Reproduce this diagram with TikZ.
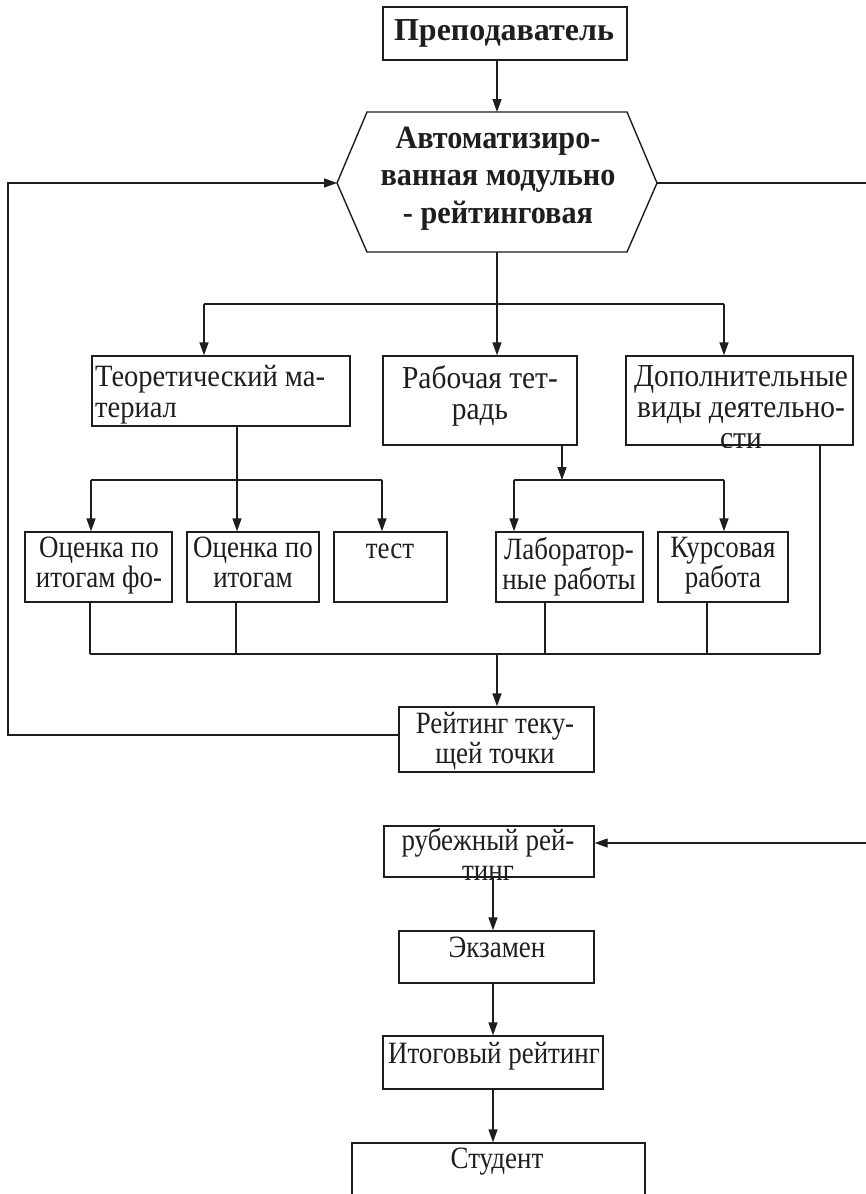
\documentclass[tikz,border=0pt]{standalone}
\usepackage{fontspec}
\setmainfont{Liberation Serif}
\newfontfamily\rowfont[FakeStretch=0.92]{Liberation Serif}
\newfontfamily\lowfont[FakeStretch=0.87]{Liberation Serif}
\newfontfamily\hexfont[FakeStretch=0.93]{Liberation Serif}
\usetikzlibrary{fit,arrows.meta}
\definecolor{ink}{HTML}{1E1E1E}
\begin{document}
\begin{tikzpicture}[x=1pt,y=-1pt,
  box/.style={draw=ink, line width=1.4pt, inner sep=0pt, rectangle},
  ln/.style={draw=ink, line width=1.4pt},
  arr/.style={ln, -{Triangle[length=13pt,width=9pt]}},
  txt/.style={inner sep=0pt, align=center, text=ink, font=\lowfont\fontsize{31}{30.5}\selectfont, execute at begin node=\strut},
  rtxt/.style={txt, font=\rowfont\fontsize{32}{31}\selectfont},
  btxt/.style={txt, font=\hexfont\fontsize{32.5}{37.5}\selectfont\bfseries},
]
\clip (0,0) rectangle (866,1194);
\fill[white] (0,0) rectangle (866,1194);

% ---------- boxes ----------
\node[box, fit={(383,7) (627,60)}] (prep) {};
\node[txt, font=\fontsize{32}{36}\selectfont\bfseries, anchor=base] (tprep) at (504,40) {Преподаватель};

\coordinate (hT) at (497,112);
\coordinate (hB) at (497,252);
\coordinate (hL) at (337,183);
\coordinate (hR) at (657,183);
\draw[ln] (367,112) -- (627,112) -- (hR) -- (627,252) -- (367,252) -- (hL) -- cycle;
\node[btxt, anchor=north] (hex) at (498,126.75) {Автоматизиро-\\ванная модульно\\- рейтинговая};

\node[box, fit={(92,356) (350,426)}] (teor) {};
\node[rtxt, font=\rowfont\fontsize{31}{31}\selectfont, align=left, anchor=north west] (tteor) at (95,365.3) {Теоретический ма-\\териал};

\node[box, fit={(383,356) (577,445)}] (rab) {};
\node[rtxt, anchor=north] (trab) at (480,365.3) {Рабочая тет-\\радь};

\node[box, fit={(626,356) (853,445)}] (dop) {};
\begin{scope}
  \clip (620,357) rectangle (860,447);
  \node[rtxt, anchor=north] (tdop) at (741,365.3) {Дополнительные\\виды деятельно-\\сти};
\end{scope}

\node[box, fit={(25,532) (172,602)}] (b1) {};
\node[txt, anchor=north] (tb1) at (99,536.65) {Оценка по\\итогам фо-};
\node[box, fit={(187,532) (319,602)}] (b2) {};
\node[txt, anchor=north] (tb2) at (253,536.65) {Оценка по\\итогам};
\node[box, fit={(334,532) (447,602)}] (b3) {};
\node[txt, anchor=north] (tb3) at (390,536.65) {тест};
\node[box, fit={(496,532) (643,602)}] (b4) {};
\node[txt, anchor=north] (tb4) at (569,536.65) {Лаборатор-\\ные работы};
\node[box, fit={(658,532) (788,602)}] (b5) {};
\node[txt, anchor=north] (tb5) at (723,536.65) {Курсовая\\работа};

\node[box, fit={(399,707) (594,772)}] (rt) {};
\node[txt, anchor=north] (trt) at (495,711.65) {Рейтинг теку-\\щей точки};

\node[box, fit={(384,826) (594,877)}] (rub) {};
\begin{scope}
  \clip (380,820) rectangle (600,880);
  \node[txt, anchor=north] (trub) at (488,827.65) {рубежный рей-\\тинг};
\end{scope}

\node[box, fit={(399,931) (594,983)}] (exam) {};
\node[txt, anchor=north] (texam) at (497,935.65) {Экзамен};

\node[box, fit={(383,1036) (603,1089)}] (itog) {};
\node[txt, anchor=north] (titog) at (494,1041.65) {Итоговый рейтинг};

\node[box, fit={(352,1143) (645,1230)}] (stud) {};
\node[txt, anchor=north] (tstud) at (497,1146.65) {Студент};

% ---------- connectors ----------
\draw[arr] (prep.south -| hT) -- (hT);

% top bus
\coordinate (busA) at (497,304);
\coordinate (busL) at (204,304);
\coordinate (busR) at (724,304);
\draw[ln] (hB) -- (busA);
\draw[ln] (busL) -- (busR);
\draw[arr] (busL) -- (busL |- teor.north);
\draw[arr] (busA) -- (busA |- rab.north);
\draw[arr] (busR) -- (busR |- dop.north);

% theory bus
\coordinate (tA) at (237,426);
\coordinate (tJ) at (237,480);
\coordinate (tL) at (91,480);
\coordinate (tR) at (382,480);
\draw[ln] (tA) -- (tJ);
\draw[ln] (tL) -- (tR);
\draw[arr] (tL) -- (tL |- b1.north);
\draw[arr] (tJ) -- (tJ |- b2.north);
\draw[arr] (tR) -- (tR |- b3.north);

% workbook bus
\coordinate (wA) at (562,445);
\coordinate (wJ) at (562,480);
\coordinate (wL) at (514,480);
\coordinate (wR) at (724,480);
\draw[arr] (wA) -- (wJ);
\draw[ln] (wL) -- (wR);
\draw[arr] (wL) -- (wL |- b4.north);
\draw[arr] (wR) -- (wR |- b5.north);

% collector bus
\coordinate (c1) at (90,654);
\coordinate (c2) at (236,654);
\coordinate (c4) at (545,654);
\coordinate (c5) at (707,654);
\coordinate (cD) at (820,654);
\coordinate (cM) at (497,654);
\draw[ln] (c1 |- b1.south) -- (c1);
\draw[ln] (c2 |- b2.south) -- (c2);
\draw[ln] (c4 |- b4.south) -- (c4);
\draw[ln] (c5 |- b5.south) -- (c5);
\draw[ln] (cD |- dop.south) -- (cD);
\draw[ln] (c1) -- (cD);
\draw[arr] (cM) -- (cM |- rt.north);

% feedback loop left
\coordinate (lp1) at (8,735);
\coordinate (lp2) at (8,183);
\draw[arr] (rt.west |- lp1) -- (lp1) -- (lp2) -- (hL);

% right side
\coordinate (er1) at (870,183);
\coordinate (er2) at (870,843);
\draw[ln] (hR) -- (er1);
\draw[arr] (er2) -- (er2 -| rub.east);

% lower chain
\coordinate (vx) at (493,0);
\draw[arr] (vx |- rub.south) -- (vx |- exam.north);
\draw[arr] (vx |- exam.south) -- (vx |- itog.north);
\draw[arr] (vx |- itog.south) -- (vx |- stud.north);
\end{tikzpicture}
\end{document}
